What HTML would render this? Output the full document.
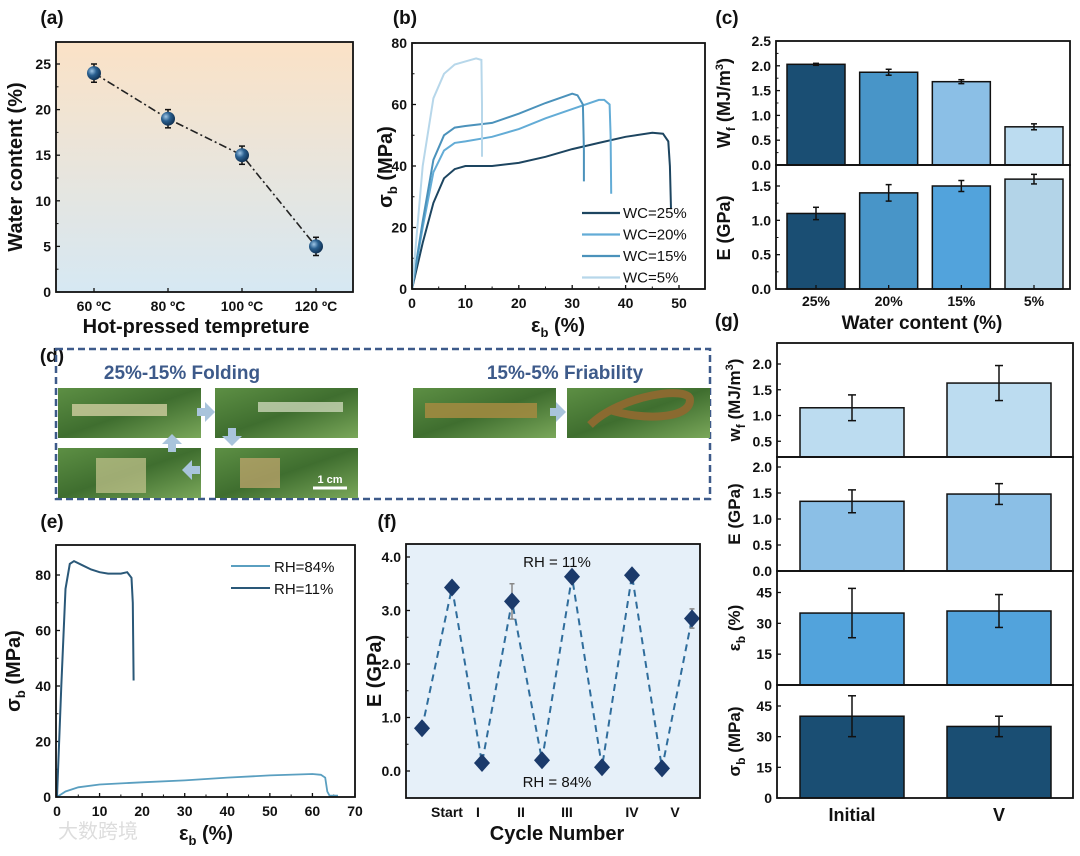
<!DOCTYPE html>
<html><head><meta charset="utf-8">
<style>
html,body{margin:0;padding:0;background:#fff;}
svg{display:block;}
</style></head>
<body>
<svg id="fig" xmlns="http://www.w3.org/2000/svg" width="1080" height="856" viewBox="0 0 1080 856" font-family="Liberation Sans, sans-serif">
<defs>
<linearGradient id="bgA" x1="0" y1="0" x2="0" y2="1"><stop offset="0" stop-color="#fbe2c6"/><stop offset="1" stop-color="#d6e8f3"/></linearGradient>
<radialGradient id="ball" cx="0.35" cy="0.35" r="0.7"><stop offset="0" stop-color="#9fc6e6"/><stop offset="0.45" stop-color="#2a6090"/><stop offset="1" stop-color="#0f2f50"/></radialGradient>
<linearGradient id="leaf" x1="0" y1="0" x2="1" y2="1"><stop offset="0" stop-color="#5d8f44"/><stop offset="0.5" stop-color="#3f6e2f"/><stop offset="1" stop-color="#7aa75a"/></linearGradient>
</defs>
</svg>
<script>
const aCats=['60 ºC','80 ºC','100 ºC','120 ºC'];
const aVals=[24,19,15,5];
const aErr=[1,1,1,1];
const bNames=['WC=25%','WC=20%','WC=15%','WC=5%'];
const b25x=[0,2,4,6,8,10,15,20,25,30,35,40,45,47,48,48.3,48.5];
const b25y=[0,15,28,36,39,40,40,41,43,45.5,47.5,49.5,50.8,50.5,48,40,26];
const b20x=[0,2,4,6,8,10,15,20,25,30,35,36,37,37.2,37.3];
const b20y=[0,20,38,45,47.5,48,49.5,52,55.5,58.5,61.5,61.5,60,50,31];
const b15x=[0,2,4,6,8,10,15,20,25,30,31,32,32.2,32.2];
const b15y=[0,22,42,50,52.5,53,54,57,60.5,63.5,63,60,45,35];
const b5x=[0,2,4,6,8,10,12,13,13.1,13.1];
const b5y=[0,40,62,70,73,74,75,74.5,60,43];
const cCats=['25%','20%','15%','5%'];
const cWf=[2.03,1.87,1.68,0.77];
const cWfErr=[0.02,0.06,0.04,0.06];
const cE=[1.1,1.4,1.5,1.6];
const cEErr=[0.09,0.12,0.08,0.07];
const eNames=['RH=84%','RH=11%'];
const e84x=[0,2,5,10,20,30,40,50,60,62,63,63.5,64,66];
const e84y=[0,2,3.5,4.5,5.3,6,7,7.8,8.3,8,7,2,0.5,0.5];
const e11x=[0,1,2,3,4,6,8,10,12,15,16.5,17.5,17.8,18];
const e11y=[0,40,75,84,85,83.5,82,81,80.5,80.5,81,79,70,42];
const fVals=[0.8,3.43,0.15,3.17,0.2,3.63,0.07,3.66,0.05,2.85];
const fErr=[0.05,0.08,0.05,0.33,0.08,0.08,0.05,0.1,0.05,0.18];
const fTickLabels=['Start','I','II','III','IV','V'];
const gCats=['Initial','V'];
const gWf=[1.15,1.63];const gWfErr=[0.25,0.34];
const gE=[1.34,1.48];const gEErr=[0.22,0.2];
const gEps=[35,36];const gEpsErr=[12,8];
const gSig=[40,35];const gSigErr=[10,5];

const NS='http://www.w3.org/2000/svg';
const svg=document.getElementById('fig');
function mk(tag,attrs,name,inter){
  const el=document.createElementNS(NS,tag);
  for(const k in attrs) el.setAttribute(k,attrs[k]);
  
  
  svg.appendChild(el);
  return el;
}
function txt(x,y,s,o,name){
  const t=mk('text',Object.assign({x:x,y:y,'font-weight':'bold','font-size':14,fill:'#111','text-anchor':'middle'},o||{}),name,false);
  t.innerHTML=s;return t;
}
function sc(d0,d1,r0,r1){return v=>r0+(v-d0)*(r1-r0)/(d1-d0);}
function line(x1,y1,x2,y2,c,w,name,dash){const a={x1,y1,x2,y2,stroke:c||'#111','stroke-width':w||1.5};if(dash)a['stroke-dasharray']=dash;return mk('line',a,name||'tick',false);}
function box(x,y,w,h,name){return mk('rect',{x,y,width:w,height:h,fill:'none',stroke:'#111','stroke-width':1.8},name,false);}
function yTicks(x,y,vals,labels,minor){
  vals.forEach((v,i)=>{line(x,y(v),x+4,y(v),'#111',1.3,'y-tick');txt(x-5,y(v)+5,labels[i],{'text-anchor':'end'},'y-tick-label');});
  (minor||[]).forEach(v=>line(x,y(v),x+2.5,y(v),'#111',1,'y-minor-tick'));
}
function pathOf(xs,ys,X,Y){return xs.map((v,i)=>(i?'L':'M')+X(v).toFixed(1)+','+Y(ys[i]).toFixed(1)).join('');}
function errbar(x,y0,y1,w,name,c){line(x,y0,x,y1,c||'#111',1.5,name);line(x-w,y0,x+w,y0,c||'#111',1.5,name);line(x-w,y1,x+w,y1,c||'#111',1.5,name);}

/* ===== (a) ===== */
txt(52,24,'(a)',{'font-size':19},'panel-label-a');
mk('rect',{x:56,y:42,width:297,height:250,fill:'url(#bgA)'},'plot-background-a',false);
const xa=sc(0,3,94,316), ya=sc(0,25,292,64);
yTicks(56,ya,[0,5,10,15,20,25],['0','5','10','15','20','25'],[2.5,7.5,12.5,17.5,22.5]);
aCats.forEach((c,i)=>{line(xa(i),292,xa(i),288,'#111',1.3,'x-tick');txt(xa(i),311,c,{},'x-tick-label');});
mk('path',{d:aVals.map((v,i)=>(i?'L':'M')+xa(i)+','+ya(v)).join(''),fill:'none',stroke:'#222','stroke-width':1.6,'stroke-dasharray':'8 3 2 3'},'water-content-line',false);
aVals.forEach((v,i)=>{errbar(xa(i),ya(v+aErr[i]),ya(v-aErr[i]),3,'error-bar');
  mk('circle',{cx:xa(i),cy:ya(v),r:7,fill:'url(#ball)'},'water-content-point',true);});
box(56,42,297,250,'plot-frame-a');
txt(22,167,'Water content (%)',{'font-size':20,transform:'rotate(-90 22 167)'},'y-axis-title-a');
txt(196,333,'Hot-pressed tempreture',{'font-size':20},'x-axis-title-a');

/* ===== (b) ===== */
txt(405,24,'(b)',{'font-size':19},'panel-label-b');
const xb=sc(0,50,412,679), yb=sc(0,80,289,43);
yTicks(412,yb,[0,20,40,60,80],['0','20','40','60','80'],[10,30,50,70]);
[0,10,20,30,40,50].forEach(v=>{line(xb(v),289,xb(v),285,'#111',1.3,'x-tick');txt(xb(v),308,String(v),{},'x-tick-label');});
[5,15,25,35,45].forEach(v=>line(xb(v),289,xb(v),286.5,'#111',1,'x-minor-tick'));
const bCols=['#1d4560','#63acd6','#4b92bb','#b7d7ea'];
[[b25x,b25y],[b20x,b20y],[b15x,b15y],[b5x,b5y]].forEach((s,i)=>{
  mk('path',{d:pathOf(s[0],s[1],xb,yb),fill:'none',stroke:bCols[i],'stroke-width':2},'curve-'+bNames[i].toLowerCase().replace(/[=%]/g,''),false);});
bNames.forEach((n,i)=>{const y=213+21.5*i;line(582,y,620,y,bCols[i],2.2,'legend-line');txt(623,y+5,n,{'text-anchor':'start','font-size':15,'font-weight':'normal'},'legend-entry');});
box(412,43,293,246,'plot-frame-b');
txt(392,167,'σ<tspan font-size="13" dy="5">b</tspan><tspan dy="-5"> (MPa)</tspan>',{'font-size':20,transform:'rotate(-90 392 167)'},'y-axis-title-b');
txt(558,332,'ε<tspan font-size="13" dy="5">b</tspan><tspan dy="-5"> (%)</tspan>',{'font-size':20},'x-axis-title-b');

/* ===== (c) ===== */
txt(727,24,'(c)',{'font-size':19},'panel-label-c');
const xc=sc(0,3,816,1034), yc1=sc(0,2.5,165,41), yc2=sc(0,1.5,289,186);
const cCol1=['#1a4e73','#4895c8','#8bbfe6','#bcdcf0'], cCol2=['#1a4e73','#4895c8','#52a3dc','#b3d4e8'];
cWf.forEach((v,i)=>{mk('rect',{x:xc(i)-29,y:yc1(v),width:58,height:165-yc1(v),fill:cCol1[i],stroke:'#111','stroke-width':1.5},'bar-wf-'+cCats[i],true);
  errbar(xc(i),yc1(v+cWfErr[i]),yc1(v-cWfErr[i]),3,'error-bar');});
cE.forEach((v,i)=>{mk('rect',{x:xc(i)-29,y:yc2(v),width:58,height:289-yc2(v),fill:cCol2[i],stroke:'#111','stroke-width':1.5},'bar-e-'+cCats[i],true);
  errbar(xc(i),yc2(v+cEErr[i]),yc2(v-cEErr[i]),3,'error-bar');});
yTicks(776,yc1,[0,0.5,1,1.5,2,2.5],['0.0','0.5','1.0','1.5','2.0','2.5'],[0.25,0.75,1.25,1.75,2.25]);
yTicks(776,yc2,[0,0.5,1,1.5],['0.0','0.5','1.0','1.5'],[0.25,0.75,1.25]);
box(776,41,294,124,'plot-frame-c-top');box(776,165,294,124,'plot-frame-c-bottom');
cCats.forEach((c,i)=>{line(xc(i),289,xc(i),285,'#111',1.3,'x-tick');txt(xc(i),306,c,{},'x-tick-label');});
txt(922,329,'Water content (%)',{'font-size':19},'x-axis-title-c');
txt(730,103,'W<tspan font-size="12" dy="5">f</tspan><tspan dy="-5"> (MJ/m</tspan><tspan font-size="11" dy="-7">3</tspan><tspan dy="7">)</tspan>',{'font-size':18,transform:'rotate(-90 730 103)'},'y-axis-title-wf');
txt(730,228,'E (GPa)',{'font-size':18,transform:'rotate(-90 730 228)'},'y-axis-title-e');

/* ===== (d) ===== */
txt(52,362,'(d)',{'font-size':19},'panel-label-d');
mk('rect',{x:56,y:349,width:654,height:150,fill:'none',stroke:'#3d5a8a','stroke-width':2.5,'stroke-dasharray':'7 4'},'photo-frame-d',false);
txt(182,379,'25%-15% Folding',{'font-size':19,fill:'#3d5a8a'},'folding-title');
txt(565,379,'15%-5% Friability',{'font-size':19,fill:'#3d5a8a'},'friability-title');
[[58,388,'photo-folding-1'],[215,388,'photo-folding-2'],[58,448,'photo-folding-3'],[215,448,'photo-folding-4'],[413,388,'photo-friable-1'],[567,388,'photo-friable-2']].forEach(p=>{
  mk('rect',{x:p[0],y:p[1],width:143,height:50,fill:'url(#leaf)'},p[2],false);});
mk('rect',{x:72,y:404,width:95,height:12,fill:'#c8c99a',opacity:0.85},'film-strip',false);
mk('rect',{x:258,y:402,width:85,height:10,fill:'#c9d6b6',opacity:0.8},'folded-film',false);
mk('rect',{x:96,y:458,width:50,height:35,fill:'#c8c690',opacity:0.7},'folded-film',false);
mk('rect',{x:240,y:458,width:40,height:30,fill:'#c8a870',opacity:0.7},'folded-film',false);
mk('rect',{x:425,y:403,width:112,height:15,fill:'#a08a40',opacity:0.9},'brittle-film',false);
mk('path',{d:'M590,425 C620,395 690,385 690,400 C690,420 640,420 610,410',fill:'none',stroke:'#8a6a30','stroke-width':8},'looped-film',false);
line(313,488,347,488,'#fff',3,'scale-bar');
txt(330,483,'1 cm',{'font-size':11,fill:'#fff'},'scale-bar-label');
[['M197,408 h8 v-6 l10,10 l-10,10 v-6 h-8z','arrow-right'],['M228,428 h8 v8 h6 l-10,10 l-10,-10 h6z','arrow-down'],['M200,466 h-8 v-6 l-10,10 l10,10 v-6 h8z','arrow-left'],['M168,452 h8 v-8 h6 l-10,-10 l-10,10 h6z','arrow-up'],['M550,408 h6 v-6 l10,10 l-10,10 v-6 h-6z','arrow-right-2']].forEach(a=>{
  mk('path',{d:a[0],fill:'#a9c4dc'},a[1],false);});

/* ===== (e) ===== */
txt(52,528,'(e)',{'font-size':19},'panel-label-e');
const xe=sc(0,70,57,355), ye=sc(0,80,797,575);
yTicks(56,ye,[0,20,40,60,80],['0','20','40','60','80'],[10,30,50,70]);
[0,10,20,30,40,50,60,70].forEach(v=>{line(xe(v),797,xe(v),793,'#111',1.3,'x-tick');txt(xe(v),816,String(v),{},'x-tick-label');});
[5,15,25,35,45,55,65].forEach(v=>line(xe(v),797,xe(v),794.5,'#111',1,'x-minor-tick'));
const eCols=['#5a9fc0','#2a5878'];
mk('path',{d:pathOf(e84x,e84y,xe,ye),fill:'none',stroke:eCols[0],'stroke-width':1.8},'curve-rh84',false);
mk('path',{d:pathOf(e11x,e11y,xe,ye),fill:'none',stroke:eCols[1],'stroke-width':2},'curve-rh11',false);
eNames.forEach((n,i)=>{const y=566+22*i;line(231,y,270,y,eCols[i],2,'legend-line');txt(274,y+6,n,{'text-anchor':'start','font-size':15,'font-weight':'normal'},'legend-entry');});
box(56,545,299,252,'plot-frame-e');
txt(20,671,'σ<tspan font-size="13" dy="5">b</tspan><tspan dy="-5"> (MPa)</tspan>',{'font-size':20,transform:'rotate(-90 20 671)'},'y-axis-title-e');
txt(206,840,'ε<tspan font-size="13" dy="5">b</tspan><tspan dy="-5"> (%)</tspan>',{'font-size':20},'x-axis-title-e');
txt(98,838,'大数跨境',{'font-size':20,fill:'#ddd','font-family':'Noto Sans CJK SC, sans-serif','font-weight':'normal'},'watermark');

/* ===== (f) ===== */
txt(387,528,'(f)',{'font-size':19},'panel-label-f');
mk('rect',{x:406,y:544,width:294,height:254,fill:'#e6f0f9'},'plot-background-f',false);
const xf=sc(0,9,422,692), yf=sc(0,4,771,557);
yTicks(406,yf,[0,1,2,3,4],['0.0','1.0','2.0','3.0','4.0'],[0.5,1.5,2.5,3.5]);
mk('path',{d:fVals.map((v,i)=>(i?'L':'M')+xf(i).toFixed(1)+','+yf(v).toFixed(1)).join(''),fill:'none',stroke:'#2f6d9c','stroke-width':2,'stroke-dasharray':'7 5'},'modulus-cycle-line',false);
fVals.forEach((v,i)=>{errbar(xf(i),yf(v+fErr[i]),yf(v-fErr[i]),2.5,'error-bar','#888');
  mk('path',{d:`M${xf(i)},${yf(v)-9}l8,9l-8,9l-8,-9z`,fill:'#1b3a6b'},'modulus-point',true);});
box(406,544,294,254,'plot-frame-f');
const fTickX=[447,478,521,567,632,675];
fTickLabels.forEach((l,i)=>txt(fTickX[i],817,l,{},'x-tick-label'));
txt(557,567,'RH = 11%',{'font-size':15,'font-weight':'normal'},'annotation-rh11');
txt(557,787,'RH = 84%',{'font-size':15,'font-weight':'normal'},'annotation-rh84');
txt(557,840,'Cycle Number',{'font-size':20},'x-axis-title-f');
txt(381,671,'E (GPa)',{'font-size':20,transform:'rotate(-90 381 671)'},'y-axis-title-f');

/* ===== (g) ===== */
txt(727,327,'(g)',{'font-size':19},'panel-label-g');
const xg=sc(0,1,852,999);
const gPanels=[
 {v:gWf,e:gWfErr,top:343,bot:457,y:sc(0,2,467,364),ticks:[0.5,1,1.5,2],lab:['0.5','1.0','1.5','2.0'],col:'#bcdcf0',t:'w<tspan font-size="12" dy="5">f</tspan><tspan dy="-5"> (MJ/m</tspan><tspan font-size="11" dy="-7">3</tspan><tspan dy="7">)</tspan>',n:'wf'},
 {v:gE,e:gEErr,top:457,bot:571,y:sc(0,2,571,467),ticks:[0,0.5,1,1.5,2],lab:['0.0','0.5','1.0','1.5','2.0'],col:'#8bbfe6',t:'E (GPa)',n:'e'},
 {v:gEps,e:gEpsErr,top:571,bot:685,y:sc(0,45,685,592.5),ticks:[0,15,30,45],lab:['0','15','30','45'],col:'#52a3dc',t:'ε<tspan font-size="12" dy="5">b</tspan><tspan dy="-5"> (%)</tspan>',n:'strain'},
 {v:gSig,e:gSigErr,top:685,bot:798,y:sc(0,45,798,706),ticks:[0,15,30,45],lab:['0','15','30','45'],col:'#1a4e73',t:'σ<tspan font-size="12" dy="5">b</tspan><tspan dy="-5"> (MPa)</tspan>',n:'stress'}];
gPanels.forEach(p=>{
  p.v.forEach((v,i)=>{mk('rect',{x:xg(i)-52,y:p.y(v),width:104,height:p.bot-p.y(v),fill:p.col,stroke:'#111','stroke-width':1.5},'bar-'+p.n+'-'+gCats[i].toLowerCase(),true);
    errbar(xg(i),p.y(v+p.e[i]),p.y(v-p.e[i]),4,'error-bar');});
  yTicks(777,p.y,p.ticks,p.lab,[]);
  box(777,p.top,296,p.bot-p.top,'plot-frame-g-'+p.n);
  const cy=(p.top+p.bot)/2;
  txt(740,cy,p.t,{'font-size':17,transform:`rotate(-90 740 ${cy})`},'y-axis-title-g-'+p.n);
});
gCats.forEach((c,i)=>txt(xg(i),821,c,{'font-size':18},'x-tick-label'));
</script>
</body></html>
